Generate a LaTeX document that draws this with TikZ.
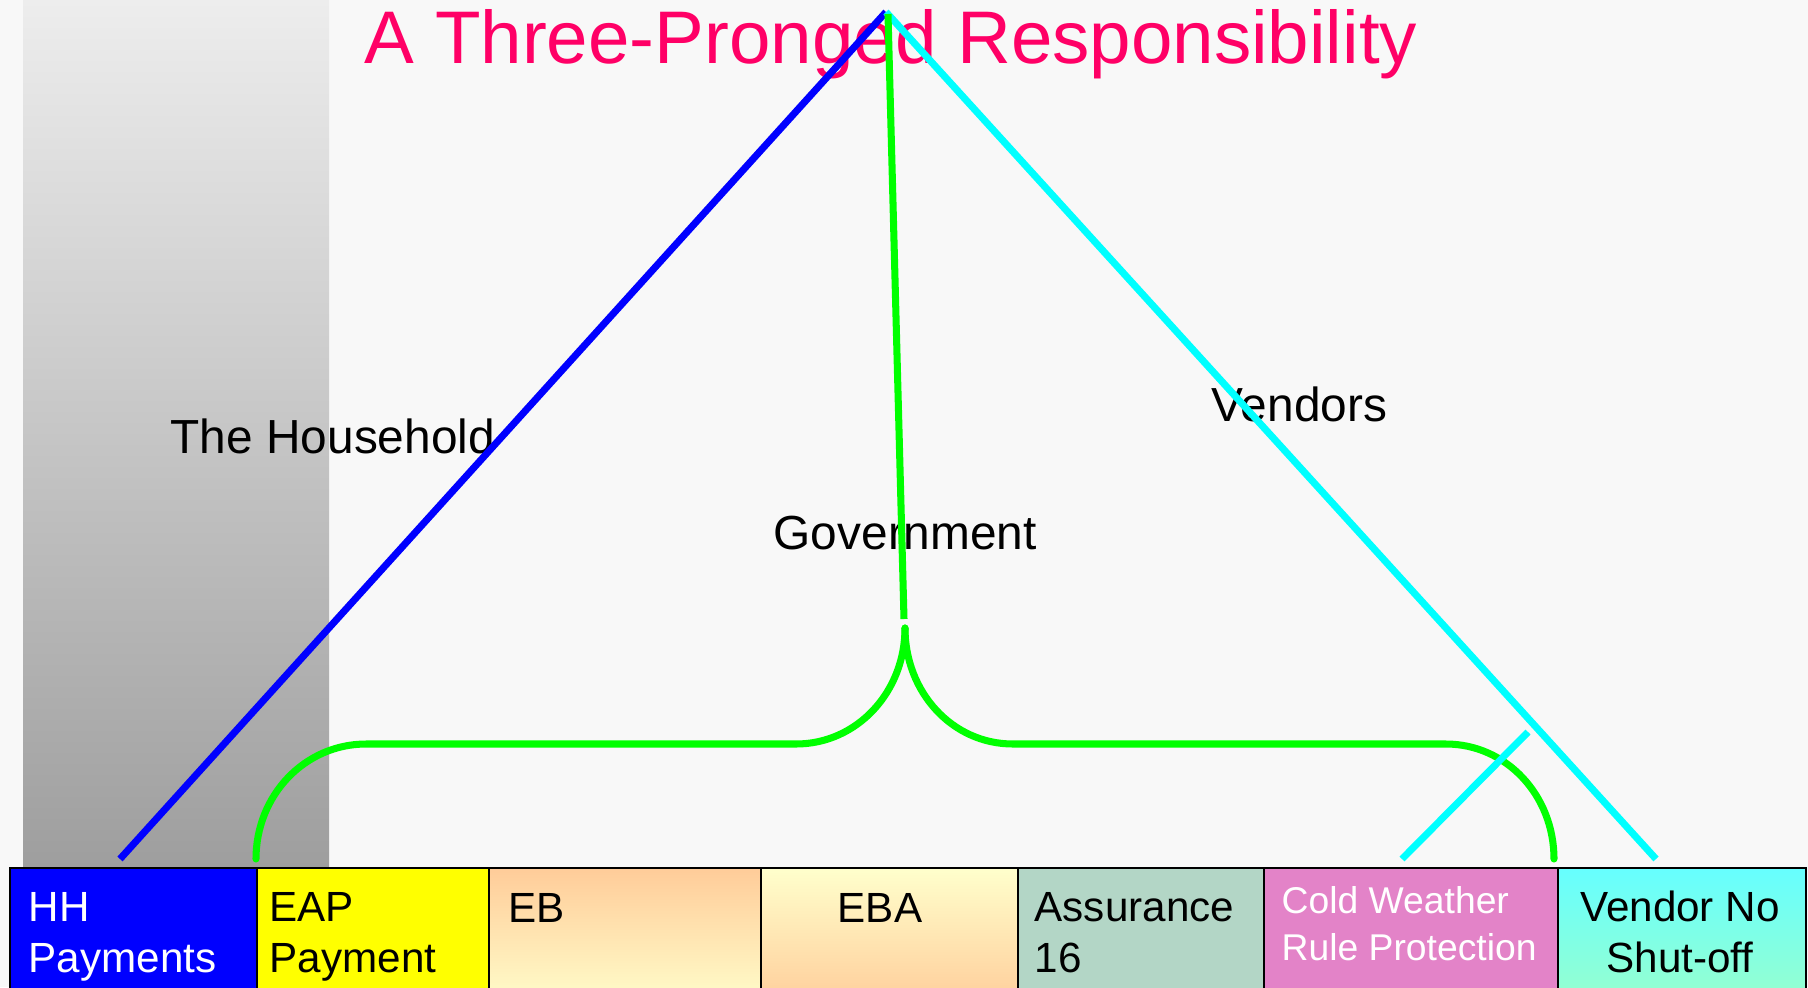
\documentclass[tikz,border=0pt]{standalone}
\usepackage{fontspec}
\setmainfont{Liberation Sans}
\definecolor{pagebg}{HTML}{F8F8F8}
\definecolor{titlered}{HTML}{FF0066}
\definecolor{hhblue}{HTML}{0000FF}
\definecolor{eapyellow}{HTML}{FFFF00}
\definecolor{peach}{HTML}{FFCC99}
\definecolor{paleyellow}{HTML}{FFFFCC}
\definecolor{sage}{HTML}{B3D6C6}
\definecolor{orchid}{HTML}{E383C8}
\definecolor{aqua}{HTML}{66FFFF}
\definecolor{mint}{HTML}{99FFCC}
\definecolor{govgreen}{HTML}{00FF00}
\definecolor{vendcyan}{HTML}{00FFFF}
\definecolor{shadetop}{HTML}{EDEDED}
\definecolor{shadebottom}{HTML}{9E9E9E}
\tikzset{
  box/.style={draw=black, line width=0.6pt, anchor=north west,
    minimum height=1.4cm, inner sep=0pt},
  % multi-line texts: the base anchor sits on the last line
  boxtext/.style={anchor=base west, align=left, inner sep=0pt,
    font=\fontsize{12}{14.5}\selectfont},
  tag/.style={anchor=base west, inner sep=0pt,
    font=\fontsize{13.6}{16}\selectfont},
  prong/.style={line width=2pt},
}
\begin{document}
\begin{tikzpicture}[x=0.01cm, y=-0.01cm]
\useasboundingbox (0,0) rectangle (1808,987);
\clip (0,0) rectangle (1808,987);
% page and shaded household column
\fill[pagebg] (0,0) rectangle (1808,987);
\shade[top color=shadetop, bottom color=shadebottom] (23,0) rectangle (329,868);

% title
\node (title) [anchor=base, inner sep=0pt, text=titlered,
  font=\fontsize{21.2}{25}\selectfont] at (891,63) {A Three-Pronged Responsibility};

% responsibility labels
\node (household) [tag] at (170,453) {The Household};
\node (vendors) [tag] at (1211,421) {Vendors};
\node (government) [tag] at (773,549) {Government};

% anchor points of the three prongs
\coordinate (apex) at (886,12);
\coordinate (gtop) at (888,14);
\coordinate (gend) at (904,619);
\coordinate (cusp) at (905,628);
\coordinate (hhfoot) at (120,859);
\coordinate (vnfoot) at (1656,859);
\coordinate (cwlow) at (1402,859);
\coordinate (cwhigh) at (1528,732);

% prongs
\draw[prong, hhblue] (hhfoot) -- (apex);
\draw[prong, vendcyan] (apex) -- (vnfoot);
\draw[prong, govgreen] (gtop) -- (gend);

% government brace over the middle programmes
\draw[prong, govgreen, line cap=round]
  (cusp) .. controls (905,692) and (857,744) .. (796,744)
  -- (366,744) .. controls (305,744) and (256,795) .. (256,859);
\draw[prong, govgreen, line cap=round]
  (cusp) .. controls (905,692) and (952,744) .. (1013,744)
  -- (1446,744) .. controls (1506,744) and (1554,795) .. (1554,859);
\draw[prong, vendcyan] (cwlow) -- (cwhigh);

% programme boxes
\node (hh)  [box, fill=hhblue, minimum width=2.47cm] at (9,867) {};
\node (eap) [box, fill=eapyellow, minimum width=2.32cm] at (256,867) {};
\node (eb)  [box, top color=peach, bottom color=paleyellow, minimum width=2.72cm] at (488,867) {};
\node (eba) [box, top color=paleyellow, bottom color=peach, minimum width=2.57cm] at (760,867) {};
\node (as)  [box, fill=sage, minimum width=2.46cm] at (1017,867) {};
\node (cw)  [box, fill=orchid, minimum width=2.94cm] at (1263,867) {};
\node (vn)  [box, top color=aqua, bottom color=mint, minimum width=2.48cm] at (1557,867) {};

\node (hhtext) [boxtext, text=white] at (28,972) {HH\\Payments};
\node (eaptext) [boxtext] at (269,972) {EAP\\Payment};
\node (ebtext) [boxtext] at (508,922) {EB};
\node (ebatext) [boxtext, anchor=base] at (880,922) {EBA};
\node (astext) [boxtext] at (1034,972) {Assurance\\16};
\node (cwtext) [boxtext, text=white, font=\fontsize{10.6}{13.1}\selectfont] at (1281,960) {Cold Weather\\Rule Protection};
\node (vntext) [boxtext, align=center, anchor=base] at (1680,972) {Vendor No\\Shut-off};
\end{tikzpicture}
\end{document}
